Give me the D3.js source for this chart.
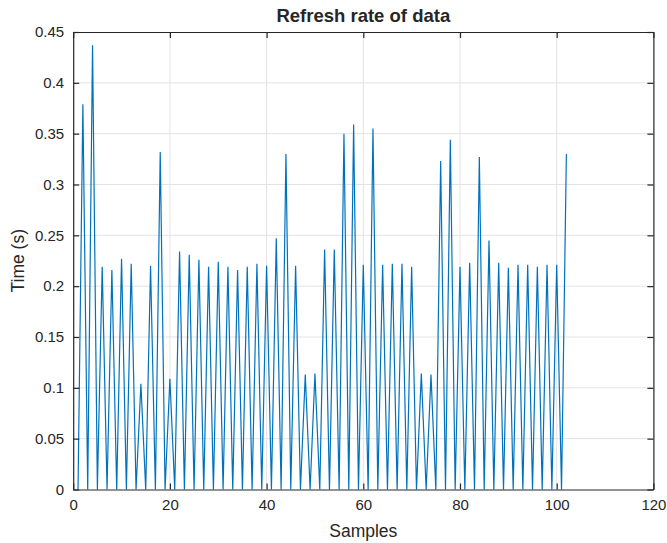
<!DOCTYPE html>
<html>
<head>
<meta charset="utf-8">
<script src="https://cdn.jsdelivr.net/npm/d3@7"></script>
<style>
html,body{margin:0;padding:0;background:#fff;}
svg{display:block;}
text{font-family:"Liberation Sans",Arial,Helvetica,sans-serif;fill:#262626;}
</style>
</head>
<body>
<div id="chart"></div>
<script>
// ---- data ----
const title = "Refresh rate of data";
const xLabel = "Samples";
const yLabel = "Time (s)";
const samples = [
  1,2,3,4,5,6,7,8,9,10,11,12,13,14,15,16,17,18,19,20,
  21,22,23,24,25,26,27,28,29,30,31,32,33,34,35,36,37,38,39,40,
  41,42,43,44,45,46,47,48,49,50,51,52,53,54,55,56,57,58,59,60,
  61,62,63,64,65,66,67,68,69,70,71,72,73,74,75,76,77,78,79,80,
  81,82,83,84,85,86,87,88,89,90,91,92,93,94,95,96,97,98,99,100,
  101,102
];
const times = [
  0,0.379,0,0.437,0,0.219,0,0.216,0,0.227,0,0.222,0,0.104,0,0.220,0,0.332,0,0.109,
  0,0.234,0,0.231,0,0.226,0,0.219,0,0.224,0,0.219,0,0.216,0,0.219,0,0.222,0,0.220,
  0,0.247,0,0.330,0,0.220,0,0.113,0,0.114,0,0.236,0,0.236,0,0.350,0,0.359,0,0.221,
  0,0.355,0,0.221,0,0.222,0,0.222,0,0.219,0,0.114,0,0.113,0,0.323,0,0.344,0,0.219,
  0,0.223,0,0.327,0,0.245,0,0.223,0,0.218,0,0.221,0,0.221,0,0.219,0,0.221,0,0.221,
  0,0.330
];
const xTicks = [0,20,40,60,80,100,120];
const yTicks = [0,0.05,0.1,0.15,0.2,0.25,0.3,0.35,0.4,0.45];
const xDomain = [0,120];
const yDomain = [0,0.45];

// ---- layout ----
const W = 667, H = 543;
const m = {left:73.2, right:W-653.4, top:32, bottom:H-489.5};
const iw = W - m.left - m.right, ih = H - m.top - m.bottom;
const axisColor = "#262626", gridColor = "#e3e3e3", lineColor = "#0072BD";
const tickLen = 6;

const svg = d3.select("#chart").append("svg").attr("width",W).attr("height",H);
const g = svg.append("g").attr("transform",`translate(${m.left},${m.top})`);

const x = d3.scaleLinear().domain(xDomain).range([0,iw]);
const y = d3.scaleLinear().domain(yDomain).range([ih,0]);

// grid
g.append("g").selectAll("line").data(xTicks.slice(1,-1)).join("line")
  .attr("x1",d=>x(d)).attr("x2",d=>x(d)).attr("y1",0).attr("y2",ih)
  .attr("stroke",gridColor).attr("stroke-width",1);
g.append("g").selectAll("line").data(yTicks.slice(1,-1)).join("line")
  .attr("y1",d=>y(d)).attr("y2",d=>y(d)).attr("x1",0).attr("x2",iw)
  .attr("stroke",gridColor).attr("stroke-width",1);

// data line
const line = d3.line().x((d,i)=>x(samples[i])).y(d=>y(d));
g.append("path").datum(times).attr("d",line)
  .attr("fill","none").attr("stroke",lineColor).attr("stroke-width",1.2)
  .attr("stroke-linejoin","miter");

// axes (ticks inward, box)
const fs = "15px";
const xB = g.append("g").attr("transform",`translate(0,${ih})`)
  .call(d3.axisBottom(x).tickValues(xTicks).tickSizeInner(-tickLen).tickSizeOuter(0).tickPadding(10).tickFormat(d3.format("d")));
const xT = g.append("g")
  .call(d3.axisTop(x).tickValues(xTicks).tickSizeInner(-tickLen).tickSizeOuter(0).tickFormat(""));
const yL = g.append("g")
  .call(d3.axisLeft(y).tickValues(yTicks).tickSizeInner(-tickLen).tickSizeOuter(0).tickPadding(9).tickFormat(d=>d3.format("")(+d.toFixed(2))));
const yR = g.append("g").attr("transform",`translate(${iw},0)`)
  .call(d3.axisRight(y).tickValues(yTicks).tickSizeInner(-tickLen).tickSizeOuter(0).tickFormat(""));
[xB,xT,yL,yR].forEach(a=>{
  a.select(".domain").attr("stroke",axisColor).attr("stroke-width",1.2);
  a.selectAll(".tick line").attr("stroke",axisColor).attr("stroke-width",1.2);
  a.selectAll(".tick text").attr("fill",axisColor).style("font-size",fs)
    .style("font-family","'Liberation Sans',Arial,sans-serif");
});

// labels
svg.append("text").attr("x",m.left+iw/2).attr("y",22)
  .attr("text-anchor","middle").style("font-weight","bold").style("font-size","18.5px").text(title);
svg.append("text").attr("x",m.left+iw/2).attr("y",537)
  .attr("text-anchor","middle").style("font-size","17.5px").text(xLabel);
svg.append("text").attr("transform",`translate(24,${m.top+ih/2}) rotate(-90)`)
  .attr("text-anchor","middle").style("font-size","17.5px").text(yLabel);
</script>
</body>
</html>
